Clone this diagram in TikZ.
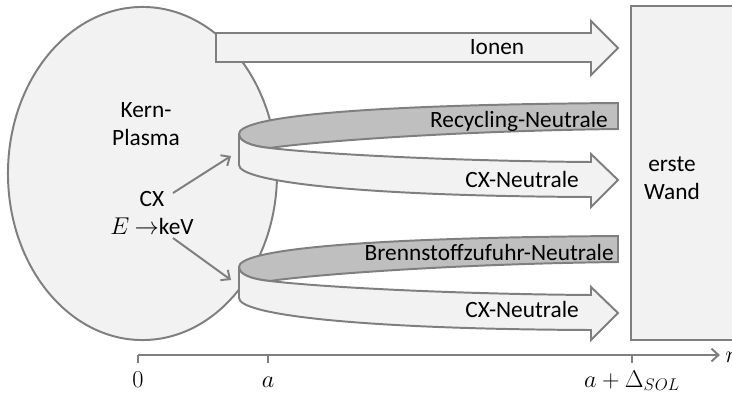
\documentclass[tikz,border=0pt]{standalone}
\usepackage{fontspec}
\setmainfont{Carlito}
\usetikzlibrary{arrows.meta}
\definecolor{edgegray}{HTML}{7F7F7F}
\definecolor{lightfill}{HTML}{F2F2F2}
\definecolor{bandgray}{HTML}{BFBFBF}

\begin{document}
\begin{tikzpicture}[x=0.025cm, y=-0.025cm, >={Straight Barb[length=5pt,width=9pt]},
    partfill/.style={draw=edgegray, fill=lightfill, line width=1.4pt},
    bandfill/.style={draw=edgegray, fill=bandgray, line width=1.4pt},
    connector/.style={draw=edgegray, line width=1.4pt},
    txt/.style={font=\fontsize{16.6}{20}\selectfont, align=center, inner sep=0pt}]
    \useasboundingbox (0,0) rectangle (732,395);
    \clip (0,0) rectangle (732,395);

    % Kern-Plasma
    \draw [partfill] (142.5,173.5) ellipse [x radius=3.3625cm, y radius=4.1625cm];
    \node [txt] (kern) at (146,124) {Kern-\\Plasma};
    \node [txt] (cx) at (152,213) {CX\\$E$ $\rightarrow$keV};

    % Ionen
    \draw [partfill] (216,33) -- (591,33) -- (591,21) -- (618,48) -- (591,75) -- (591,62) -- (216,62) -- cycle;
    \node [txt, anchor=base] (ionen) at (497,54) {Ionen};

    % Ribbons
    \foreach \dy in {0,133} {
        \begin{scope}[shift={(0,\dy)}]
            \draw [bandfill] (239,134) .. controls (239,119) and (330,105) .. (618,103) -- (618,129)
                .. controls (450,131) and (310,142) .. (270,148)
                .. controls (250,146) and (239,141) .. (239,134);
            \draw [partfill] (239,134) -- (239,165) .. controls (239,181) and (350,196) .. (591,197)
                -- (591,207) -- (618,180) -- (591,154) -- (591,162)
                .. controls (450,161) and (320,154) .. (270,148)
                .. controls (250,146) and (239,141) .. (239,134) -- cycle;
        \end{scope}
    }
    \node [txt, anchor=base east] (recyc) at (608,127) {Recycling-Neutrale};
    \node [txt, anchor=base east] (cxup) at (579,187) {CX-Neutrale};
    \node [txt, anchor=base east] (brenn) at (614,260) {Brennstoffzufuhr-Neutrale};
    \node [txt, anchor=base east] (cxdown) at (579,317) {CX-Neutrale};

    % CX arrows
    \coordinate (cxa) at (173,193);
    \coordinate (ribup) at (231,156);
    \coordinate (cxb) at (173,238);
    \coordinate (ribdown) at (231,280);
    \draw [connector, ->] (cxa) -- (ribup);
    \draw [connector, ->] (cxb) -- (ribdown);

    % Wall
    \draw [partfill] (631,6) rectangle (745,340);
    \node [txt] (wand) at (672,178) {erste\\Wand};

    % Axis
    \coordinate (origin) at (138,355);
    \coordinate (rtip) at (720,355);
    \draw [connector, ->] (origin) -- (rtip);
    \node [txt, anchor=west] (rlab) at (725,357) {$r$};
    \foreach \x/\lab [count=\i] in {138/0, 268/a, 632/a+\Delta_{SOL}} {
        \draw [connector] (\x,355) -- (\x,363);
        \node [txt, anchor=base] (tick\i) at (\x,387) {$\lab$};
    }
\end{tikzpicture}
\end{document}
